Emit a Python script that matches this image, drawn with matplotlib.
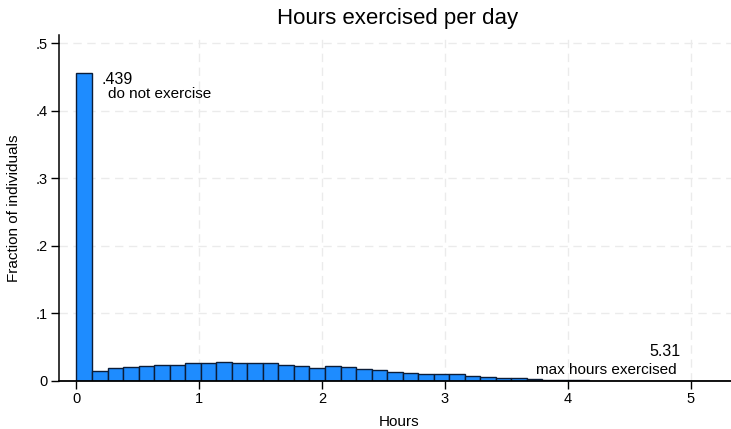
import numpy as np
import matplotlib
matplotlib.use("Agg")
from matplotlib import pyplot as plt

plt.rcParams['font.family'] = ['Liberation Sans', 'DejaVu Sans']

# Histogram of hours exercised: 42 equal bins from 0 to the max (5.31 h)
max_hours = 5.31
n_bins = 42
fractions = [0.456, 0.0152, 0.0196, 0.0206, 0.0225, 0.0230, 0.0230, 0.0265,
             0.0265, 0.0275, 0.0265, 0.0265, 0.0265, 0.0240, 0.0225, 0.0196,
             0.0216, 0.0206, 0.0176, 0.0157, 0.0137, 0.0125, 0.0108, 0.0098,
             0.0098, 0.0069, 0.0059, 0.0042, 0.0040, 0.0025, 0.0016, 0.0011,
             0.0008, 0.0006, 0.0005, 0.0004, 0.0003, 0.0003, 0.0002, 0.0002,
             0.0001, 0.0001]
no_exercise_label = ".439"
x_ticks = [0, 1, 2, 3, 4, 5]
y_ticks = [0, .1, .2, .3, .4, .5]
y_tick_labels = ["0", ".1", ".2", ".3", ".4", ".5"]

bin_width = max_hours / n_bins
bin_starts = np.arange(n_bins) * bin_width

fig = plt.figure(figsize=(7.31, 4.29), dpi=100)
ax = fig.add_axes([0.0807, 0.1119, 0.9193, 0.8065])

# Stata-like dashed grid
for x in x_ticks[1:]:
    ax.axvline(x, color='#ebebeb', lw=1, ls=(0, (6, 4)), zorder=0)
for y in y_ticks[1:]:
    ax.axhline(y, color='#ebebeb', lw=1, ls=(0, (6, 4)), zorder=0)

ax.bar(bin_starts, fractions, width=bin_width, align='edge',
       color='#1E8CFF', edgecolor='#0b1d38', linewidth=1.0, zorder=2)

ax.set_xlim(-0.1425, 5.328)
ax.set_ylim(0, 0.512)
ax.set_xticks(x_ticks)
ax.set_yticks(y_ticks)
ax.set_yticklabels(y_tick_labels)
ax.tick_params(axis='both', direction='out', length=6, width=1, labelsize=10.5,
               color='black', pad=2)

for side in ['top', 'right']:
    ax.spines[side].set_visible(False)
ax.spines['left'].set_linewidth(1.1)
ax.spines['bottom'].set_linewidth(1.3)

# annotations
ax.text(0.2076, 0.439, no_exercise_label, fontsize=11.5, ha='left', va='baseline', zorder=3)
ax.text(0.2565, 0.4195, "do not exercise", fontsize=11, ha='left', va='baseline', zorder=3)
ax.text(4.913, 0.037, "%.2f" % max_hours, fontsize=11.5, ha='right', va='baseline', zorder=3)
ax.text(4.889, 0.0104, "max hours exercised", fontsize=11, ha='right', va='baseline', zorder=3)

fig.text(0.5438, 0.944, "Hours exercised per day", fontsize=16, ha='center', va='baseline')
fig.text(0.546, 0.0077, "Hours", fontsize=11, ha='center', va='baseline')
fig.text(0.019, 0.515, "Fraction of individuals", fontsize=11, rotation=90,
         ha='center', va='center')

fig.savefig("out.png", dpi=100)
